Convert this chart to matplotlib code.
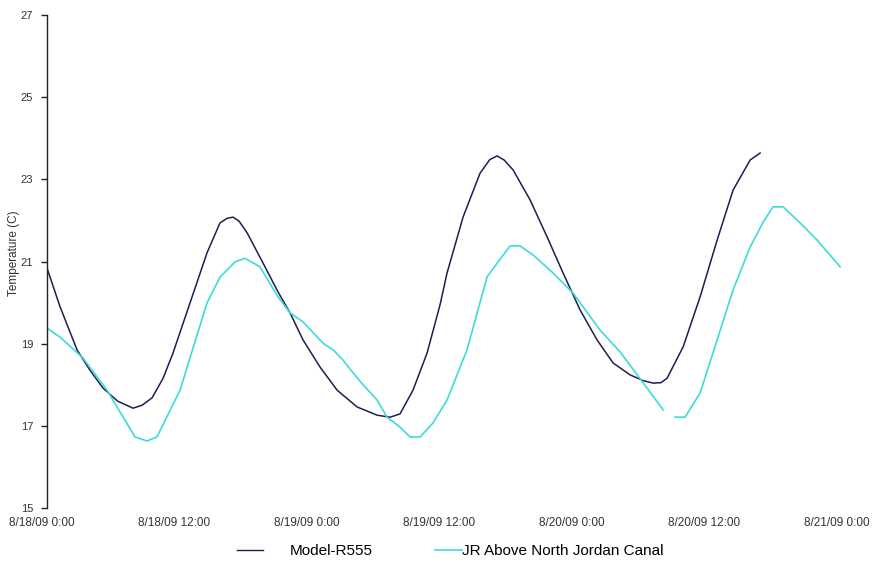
import numpy as np
import matplotlib
matplotlib.use("Agg")
import matplotlib.pyplot as plt
from matplotlib.transforms import ScaledTranslation
from matplotlib.lines import Line2D

# ---- data (hours since 8/18/09 0:00, temperature in C) ----
model_hours = [0.0, 1.18, 2.72, 3.9, 5.07, 6.4, 7.79, 8.6, 9.51, 10.5, 11.41, 12.95, 14.49,
               15.67, 16.3, 16.85, 17.4, 18.12, 19.57, 20.92, 22.01, 23.19, 24.73, 26.27,
               28.08, 29.89, 31.07, 31.97, 33.15, 34.42, 35.6, 36.23, 37.68, 39.22,
               40.1, 40.76, 41.4, 42.21, 43.75, 45.29, 46.74, 48.28, 49.82, 51.27, 52.81,
               54.0, 54.89, 55.6, 56.16, 57.61, 59.15, 60.69, 62.14, 63.68, 64.58]
model_temp = [20.84, 19.9, 18.85, 18.35, 17.92, 17.6, 17.43, 17.5, 17.68, 18.15, 18.77,
              19.99, 21.21, 21.94, 22.05, 22.08, 21.98, 21.7, 20.96, 20.26, 19.75, 19.09,
              18.43, 17.87, 17.46, 17.26, 17.21, 17.29, 17.87, 18.77, 19.95, 20.72,
              22.08, 23.15, 23.48, 23.57, 23.47, 23.23, 22.5, 21.6, 20.72, 19.82, 19.09,
              18.53, 18.24, 18.1, 18.04, 18.05, 18.16, 18.92, 20.14, 21.52, 22.74, 23.47,
              23.64]

jr_hours = [0.0, 1.18, 3.26, 5.43, 7.97, 9.06, 9.96, 12.05, 14.49, 15.67, 17.03,
            17.93, 19.29, 20.92, 22.01, 23.19, 25.0, 25.91, 26.81, 27.72, 28.62,
            29.89, 30.8, 31.97, 32.88, 33.79, 34.96, 36.23, 38.04, 39.86, 41.94,
            42.84, 44.02, 45.83, 47.64, 50.09, 51.9, 53.71, 55.8, 56.3, 56.88,
            57.79, 59.15, 60.69, 62.14, 63.68, 64.86, 65.76, 66.67, 68.21, 69.75,
            71.83]
jr_temp = [19.38, 19.16, 18.65, 17.87, 16.73, 16.63, 16.73, 17.87, 19.99, 20.62, 20.99,
           21.08, 20.87, 20.14, 19.75, 19.53, 19.01, 18.85, 18.6, 18.29, 18.0,
           17.63, 17.21, 16.97, 16.73, 16.73, 17.07, 17.63, 18.85, 20.63, 21.38,
           21.38, 21.16, 20.72, 20.23, 19.33, 18.8, 18.15, 17.39, np.nan, 17.21,
           17.21, 17.8, 19.09, 20.31, 21.35, 21.96, 22.33, 22.33, 21.94, 21.52,
           20.87]

xtick_hours = [0, 12, 24, 36, 48, 60, 72]
xtick_labels = ["8/18/09 0:00", "8/18/09 12:00", "8/19/09 0:00", "8/19/09 12:00",
                "8/20/09 0:00", "8/20/09 12:00", "8/21/09 0:00"]
yticks = [15, 17, 19, 21, 23, 25, 27]

series_names = ["Model-R555", "JR Above North Jordan Canal"]
navy = "#1e1e50"
cyan = "#3cdcd8"

plt.rcParams['font.family'] = ['Liberation Sans', 'DejaVu Sans']

W, H = 874, 567
fig = plt.figure(figsize=(W / 100, H / 100), dpi=100)
left, right, top, bottom = 47, 842, 15, 508
ax = fig.add_axes([left / W, (H - bottom) / H, (right - left) / W, (bottom - top) / H])

ax.plot(model_hours, model_temp, color=navy, lw=1.1)
ax.plot(jr_hours, jr_temp, color=cyan, lw=1.2)

ax.set_xlim(0, 72)
ax.set_ylim(15, 27)
ax.set_yticks(yticks)
ax.set_xticks(xtick_hours)
ax.set_xticklabels(xtick_labels)

for s in ["top", "right", "bottom"]:
    ax.spines[s].set_visible(False)
ax.spines["left"].set_color("#222222")
ax.spines["left"].set_linewidth(1.0)

ax.tick_params(axis="y", direction="out", length=4, width=1, color="#222222",
               pad=6, labelsize=8, labelcolor="#333333")
ax.tick_params(axis="x", length=0, pad=6.5, labelsize=8.5, labelcolor="#333333")
off = ScaledTranslation(-5 / 100, 0, fig.dpi_scale_trans)
for lab in ax.get_xticklabels():
    lab.set_transform(lab.get_transform() + off)

ax.set_ylabel("Temperature (C)", fontsize=8.5, color="#333333")
ax.yaxis.set_label_coords((20 - left) / (right - left), (bottom - 253) / (bottom - top))

# legend (two entries placed separately to mimic spacing)
h1 = Line2D([], [], color=navy, lw=1.0)
h2 = Line2D([], [], color=cyan, lw=1.2)
leg1 = fig.legend([h1], [series_names[0]], loc="center left",
                  bbox_to_anchor=(237 / W, (H - 551) / H), frameon=False,
                  fontsize=11, handlelength=1.7, handletextpad=1.75,
                  borderpad=0, borderaxespad=0)
leg2 = fig.legend([h2], [series_names[1]], loc="center left",
                  bbox_to_anchor=(435 / W, (H - 551) / H), frameon=False,
                  fontsize=11, handlelength=1.75, handletextpad=0.05,
                  borderpad=0, borderaxespad=0)

fig.savefig("out.png", dpi=100)
